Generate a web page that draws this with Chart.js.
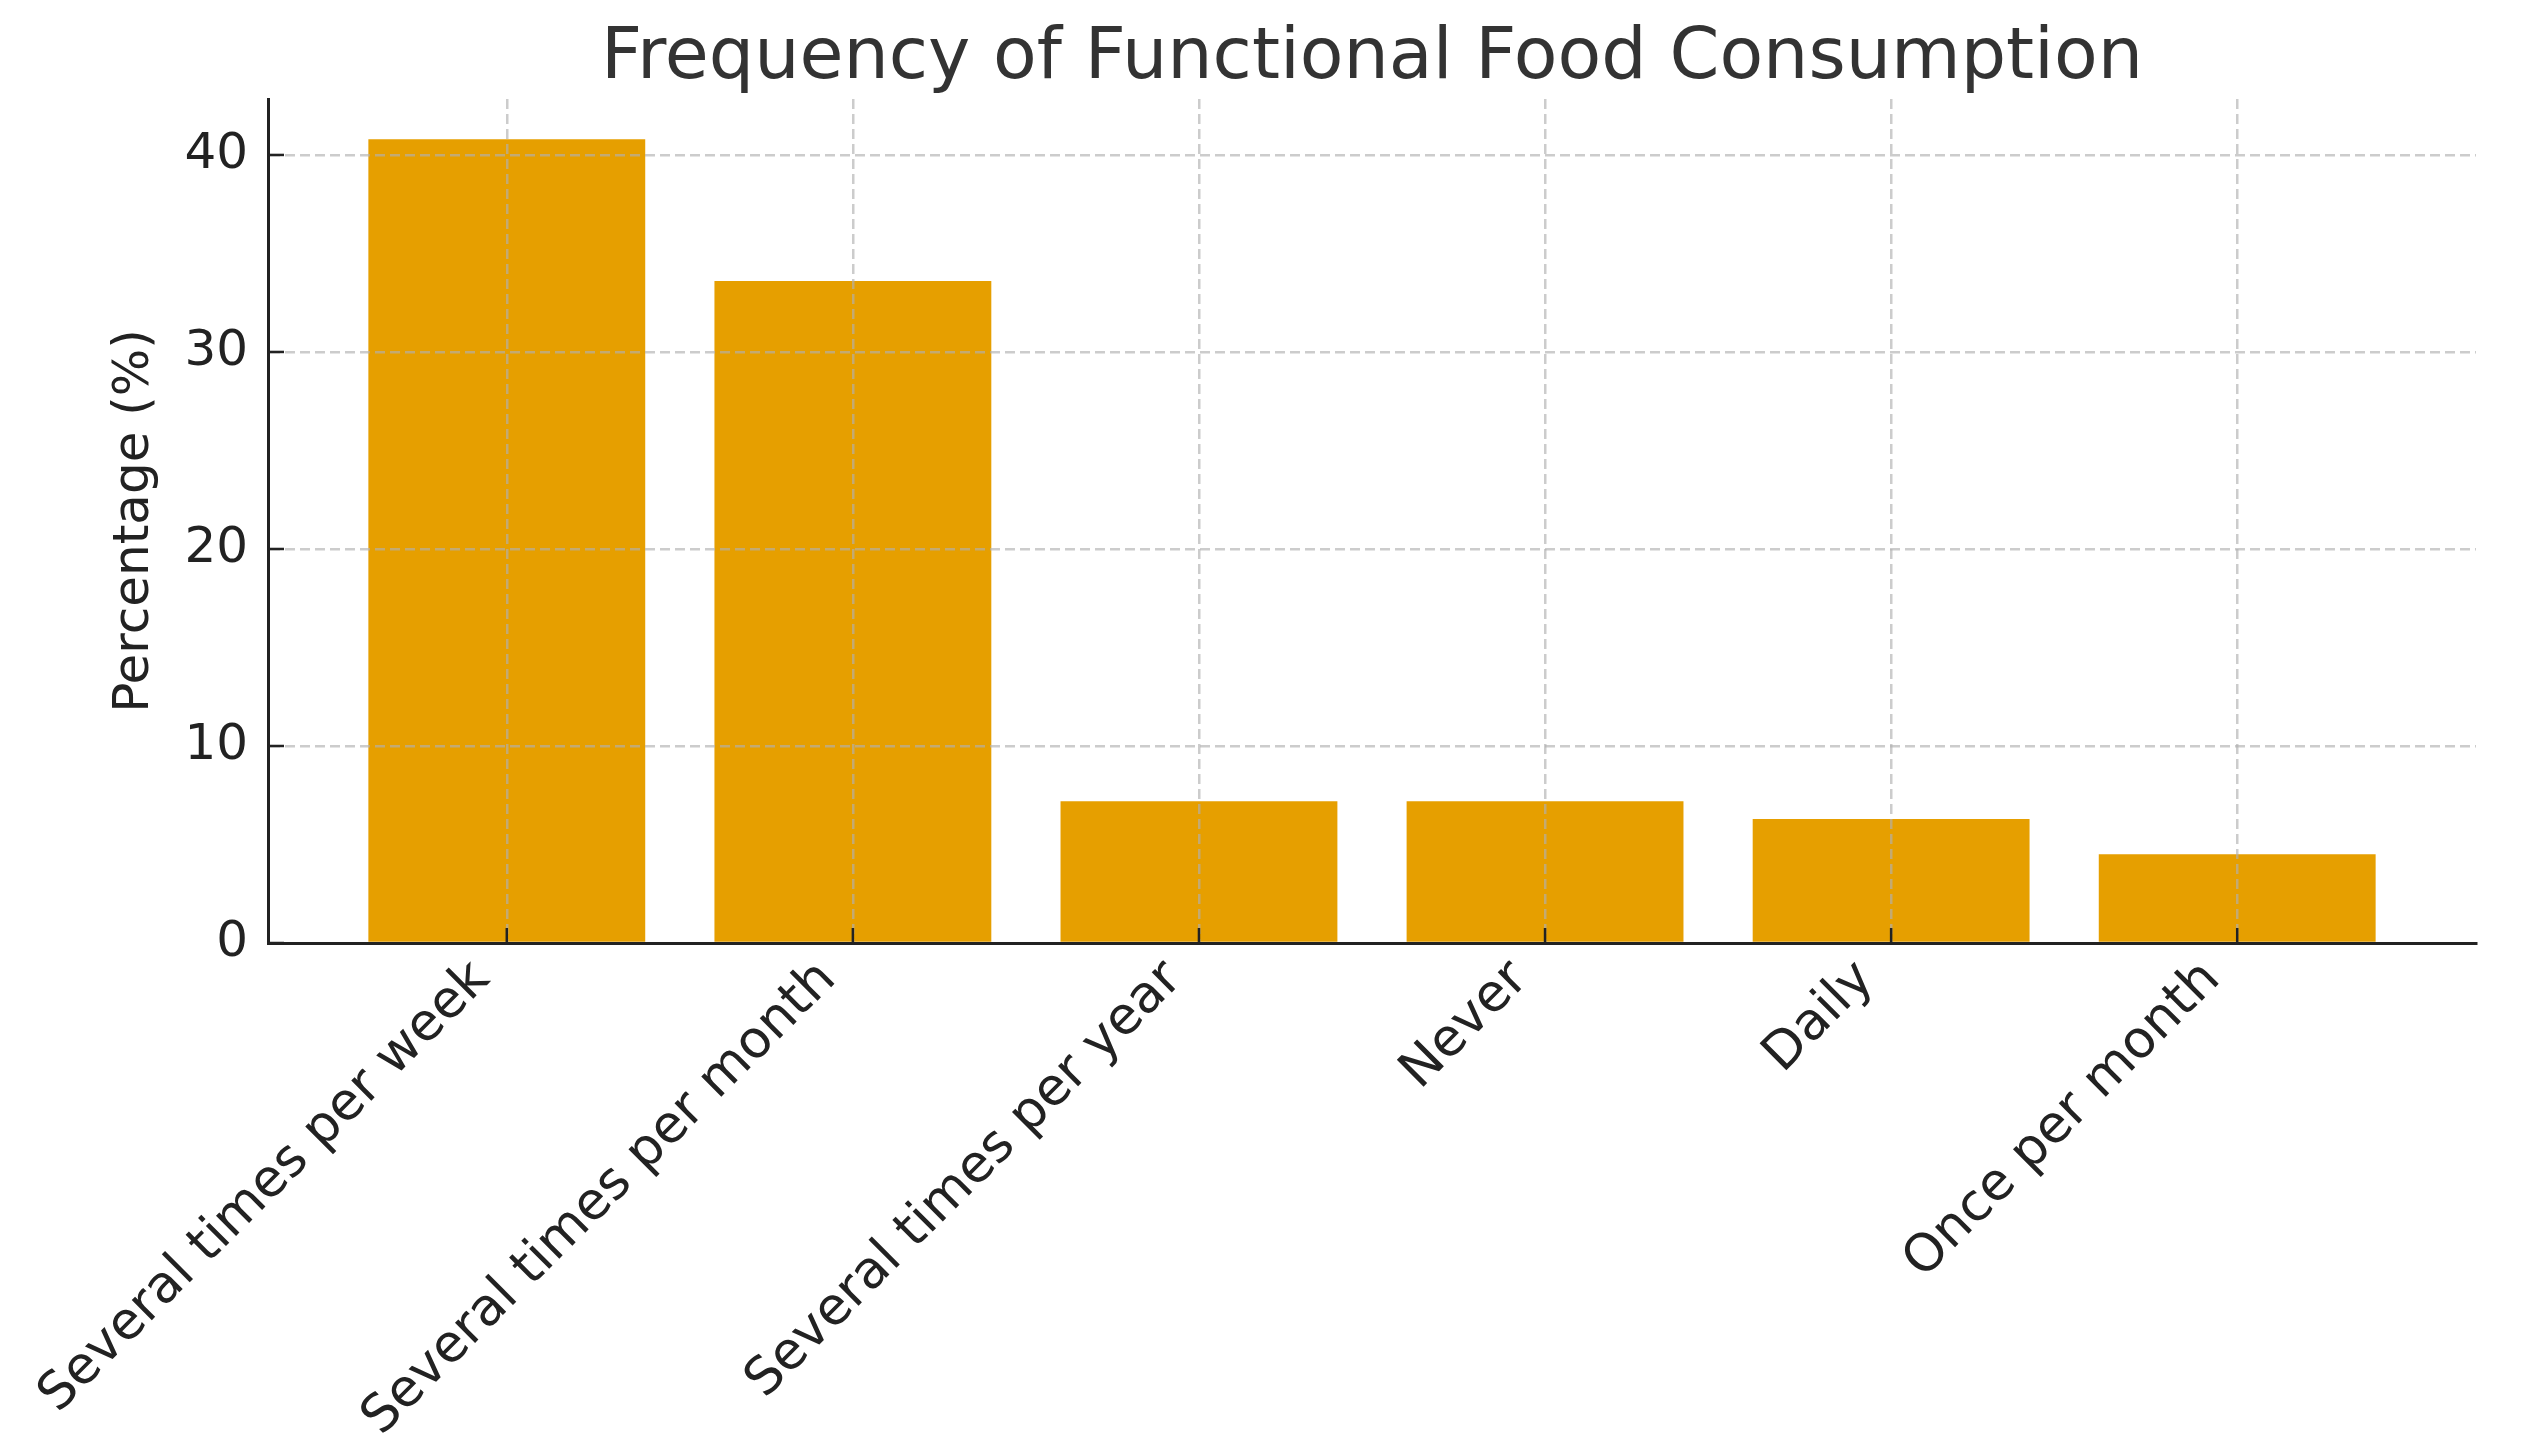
<!DOCTYPE html>
<html><head><meta charset="utf-8">
<script src="https://cdn.jsdelivr.net/npm/chart.js@4.4.1/dist/chart.umd.min.js"></script>
<style>html,body{margin:0;padding:0;background:#fff}</style>
</head><body>
<canvas id="c" width="2529" height="1447" style="width:2529px;height:1447px;display:block"></canvas>
<script>
const categories = ["Several times per week", "Several times per month", "Several times per year", "Never", "Daily", "Once per month"];
const percentages = [40.8, 33.6, 7.2, 7.2, 6.3, 4.5];
const yTickValues = [0, 10, 20, 30, 40];
const yMax = 42.84;
const chartTitle = "Frequency of Functional Food Consumption";
const yTitle = "Percentage (%)";

const FONT = "'DejaVu Sans', 'Liberation Sans', sans-serif";
const gridColor = 'rgba(176,176,176,0.65)';

const inwardTicks = {
  id: 'inwardTicks',
  afterDraw(chart) {
    const {ctx, scales: {x, y}, chartArea} = chart;
    ctx.save();
    ctx.strokeStyle = '#222';
    ctx.lineWidth = 2.5;
    yTickValues.forEach(v => {
      const py = y.getPixelForValue(v);
      ctx.beginPath(); ctx.moveTo(chartArea.left, py); ctx.lineTo(chartArea.left + 16, py); ctx.stroke();
    });
    categories.forEach((c, i) => {
      const px = x.getPixelForValue(i);
      ctx.beginPath(); ctx.moveTo(px, chartArea.bottom); ctx.lineTo(px, chartArea.bottom - 15); ctx.stroke();
    });
    ctx.restore();
  }
};

const areaTitle = {
  id: 'areaTitle',
  afterDraw(chart) {
    const {ctx, chartArea} = chart;
    ctx.save();
    ctx.fillStyle = '#333333';
    ctx.font = "71.5px " + FONT;
    ctx.textAlign = 'center';
    ctx.textBaseline = 'alphabetic';
    ctx.fillText(chartTitle, (chartArea.left + chartArea.right) / 2, 78);
    ctx.restore();
  }
};

new Chart(document.getElementById('c'), {
  type: 'bar',
  data: {
    datasets: [{
      data: percentages.map((v, i) => ({x: i, y: v})),
      backgroundColor: '#E69F00',
      borderWidth: 0,
      barPercentage: 0.8,
      categoryPercentage: 1.0
    }]
  },
  options: {
    responsive: false,
    animation: false,
    devicePixelRatio: 1,
    layout: {padding: {left: 0, right: 53, top: 99, bottom: 0}},
    plugins: {
      legend: {display: false},
      tooltip: {enabled: false},
      title: {display: false}
    },
    scales: {
      x: {
        type: 'linear',
        min: -0.69,
        max: 5.69,
        offset: false,
        afterFit(s) { s.height = 504; },
        ticks: {
          stepSize: 1,
          includeBounds: false,
          autoSkip: false,
          minRotation: 45,
          maxRotation: 45,
          padding: 6,
          labelOffset: -25,
          color: '#222',
          font: {family: FONT, size: 52},
          callback: v => (categories[v] !== undefined ? categories[v] : '')
        },
        grid: {color: gridColor, lineWidth: 2.5, drawTicks: false, offset: false, z: 1},
        border: {color: '#222', width: 3, dash: [10, 5], z: 2, display: true}
      },
      y: {
        min: 0,
        max: yMax,
        afterFit(s) { s.width = 268; },
        title: {
          display: true,
          text: yTitle,
          color: '#222',
          font: {family: FONT, size: 50},
          padding: {top: 105, bottom: 0}
        },
        ticks: {
          stepSize: 10,
          includeBounds: false,
          padding: 20,
          color: '#222',
          font: {family: FONT, size: 50}
        },
        grid: {color: gridColor, lineWidth: 2.5, drawTicks: false, z: 1},
        border: {color: '#222', width: 3, dash: [10, 5], z: 2}
      }
    }
  },
  plugins: [inwardTicks, areaTitle]
});
</script>
</body></html>
